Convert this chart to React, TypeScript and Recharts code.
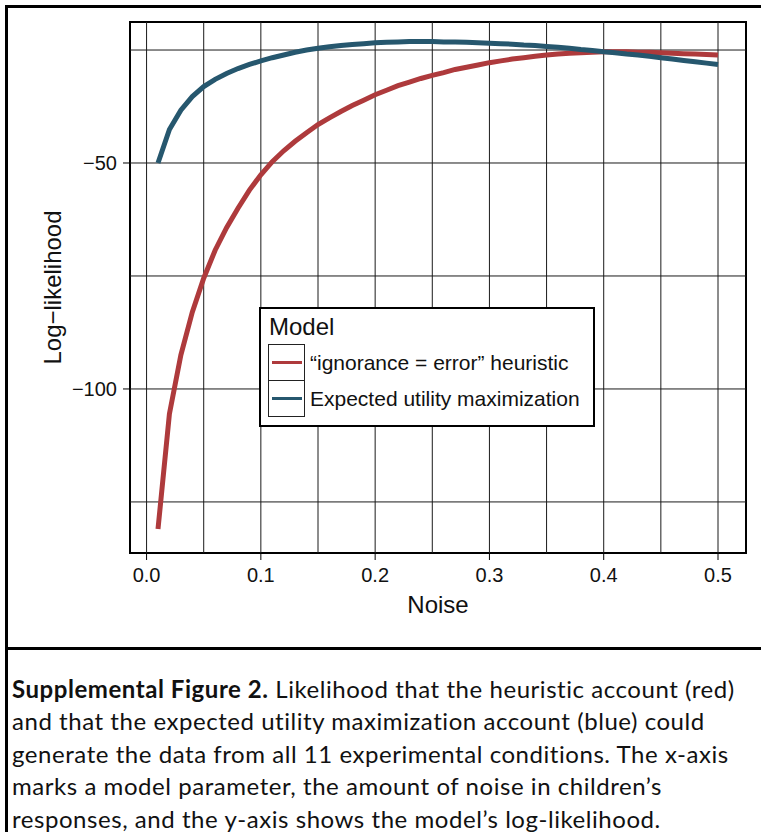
import {
  LineChart,
  Line,
  XAxis,
  YAxis,
  ReferenceLine,
  ReferenceArea,
  Legend,
  Label,
} from "recharts";

// noise parameter grid
const noise = [
  0.01, 0.02, 0.03, 0.04, 0.05, 0.06, 0.07, 0.08, 0.09, 0.1,
  0.11, 0.12, 0.13, 0.14, 0.15, 0.16, 0.17, 0.18, 0.19, 0.2,
  0.21, 0.22, 0.23, 0.24, 0.25, 0.26, 0.27, 0.28, 0.29, 0.3,
  0.31, 0.32, 0.33, 0.34, 0.35, 0.36, 0.37, 0.38, 0.39, 0.4,
  0.41, 0.42, 0.43, 0.44, 0.45, 0.46, 0.47, 0.48, 0.49, 0.5,
];

// "ignorance = error" heuristic log-likelihood
const heuristic = [
  -131, -105.5, -92.5, -83, -75.5, -69.3, -64.3, -60, -56, -52.6,
  -49.7, -47.3, -45.2, -43.3, -41.5, -40, -38.6, -37.3, -36.1, -34.9,
  -33.9, -32.9, -32.1, -31.3, -30.6, -30, -29.3, -28.8, -28.3, -27.8,
  -27.4, -27, -26.7, -26.4, -26.1, -25.9, -25.7, -25.6, -25.5, -25.4,
  -25.4, -25.4, -25.5, -25.5, -25.6, -25.7, -25.8, -25.9, -26, -26.1,
];

// expected utility maximization log-likelihood
const expectedUtility = [
  -50, -42.6, -38.3, -35.3, -33.1, -31.5, -30.2, -29.1, -28.2, -27.4,
  -26.7, -26.1, -25.5, -25, -24.6, -24.3, -24, -23.8, -23.6, -23.4,
  -23.3, -23.2, -23.1, -23.1, -23.1, -23.2, -23.2, -23.3, -23.4, -23.5,
  -23.6, -23.7, -23.9, -24, -24.2, -24.4, -24.6, -24.9, -25.1, -25.4,
  -25.6, -25.9, -26.1, -26.4, -26.7, -27, -27.3, -27.6, -27.9, -28.2,
];

const seriesNames = ["\u201cignorance = error\u201d heuristic", "Expected utility maximization"];
const seriesColors = ["#AE3A3C", "#26576E"];

const xTicks = [0, 0.1, 0.2, 0.3, 0.4, 0.5];
const yTicks = [-100, -50];
const xGrid = [0, 0.05, 0.1, 0.15, 0.2, 0.25, 0.3, 0.35, 0.4, 0.45, 0.5];
const yGrid = [-125, -100, -75, -50, -25];
const X_DOMAIN: [number, number] = [-0.0145, 0.5245];
const Y_DOMAIN: [number, number] = [-136.3, -18.8];

const captionLines = [
  "and that the expected utility maximization account (blue) could",
  "generate the data from all 11 experimental conditions. The x-axis",
  "marks a model parameter, the amount of noise in children\u2019s",
  "responses, and the y-axis shows the model\u2019s log-likelihood.",
];

const data = noise.map((n, i) => ({
  noise: n,
  heuristic: heuristic[i],
  eu: expectedUtility[i],
}));

const FONT = "'Liberation Sans', Arial, Helvetica, sans-serif";
const fmtMinus = (v: number) => (v < 0 ? "\u2212" + Math.abs(v) : String(v));

function ModelLegend() {
  return (
    <div
      style={{
        width: 332,
        height: 116,
        border: "2px solid #000",
        background: "#fff",
        fontFamily: FONT,
        color: "#111",
      }}
    >
      <div style={{ fontSize: 24, lineHeight: "24px", padding: "6px 0 0 8px" }}>Model</div>
      <div style={{ marginTop: 5, marginLeft: 7 }}>
        {seriesNames.map((name, i) => (
          <div
            key={name}
            style={{ display: "flex", alignItems: "center", marginTop: i ? -1 : 0 }}
          >
            <div
              style={{
                width: 35,
                height: 35,
                border: "1px solid #222",
                display: "flex",
                alignItems: "center",
                justifyContent: "center",
              }}
            >
              <div style={{ width: 30, height: 2.5, background: seriesColors[i] }} />
            </div>
            <span style={{ fontSize: 21, lineHeight: "21px", marginLeft: 5 }}>{name}</span>
          </div>
        ))}
      </div>
    </div>
  );
}

export default function App() {
  return (
    <div
      style={{
        position: "absolute",
        left: 0,
        top: 0,
        width: 761,
        height: 832,
        overflow: "hidden",
        background: "#fff",
      }}
    >
      {/* outer figure frame */}
      <div
        style={{
          position: "absolute",
          left: 5,
          top: 5,
          width: 800,
          height: 900,
          border: "3px solid #000",
        }}
      />
      <div style={{ position: "absolute", left: 0, top: 0 }}>
        <LineChart
          width={761}
          height={640}
          data={data}
          margin={{ top: 22, right: 15, left: 0, bottom: 0 }}
        >
          {xGrid.map((v) => (
            <ReferenceLine key={"gx" + v} x={v} stroke="#1a1a1a" strokeWidth={1} />
          ))}
          {yGrid.map((v) => (
            <ReferenceLine key={"gy" + v} y={v} stroke="#1a1a1a" strokeWidth={1} />
          ))}
          <XAxis
            dataKey="noise"
            type="number"
            domain={X_DOMAIN}
            allowDataOverflow
            ticks={xTicks}
            interval={0}
            tickFormatter={(v: number) => v.toFixed(1)}
            axisLine={false}
            tickLine={{ stroke: "#000" }}
            tickSize={7}
            tickMargin={8}
            height={87}
            tick={{ fontSize: 20, fill: "#111", fontFamily: FONT }}
          >
            <Label
              value="Noise"
              position="insideBottom"
              offset={27}
              style={{ fontSize: 24, fill: "#111", fontFamily: FONT }}
            />
          </XAxis>
          <YAxis
            type="number"
            domain={Y_DOMAIN}
            allowDataOverflow
            ticks={yTicks}
            interval={0}
            tickFormatter={fmtMinus}
            axisLine={false}
            tickLine={{ stroke: "#000" }}
            tickSize={7}
            tickMargin={6}
            width={130}
            tick={{ fontSize: 20, fill: "#111", fontFamily: FONT }}
            label={({ viewBox }: any) => {
              const cx = viewBox.x + 52;
              const cy = viewBox.y + viewBox.height / 2;
              return (
                <text
                  x={cx}
                  y={cy}
                  transform={`rotate(-90, ${cx}, ${cy})`}
                  textAnchor="middle"
                  dominantBaseline="central"
                  style={{ fontSize: 24, fill: "#111", fontFamily: FONT }}
                >
                  Log{"\u2212"}likelihood
                </text>
              );
            }}
          />
          <ReferenceArea
            x1={X_DOMAIN[0]}
            x2={X_DOMAIN[1]}
            y1={Y_DOMAIN[0]}
            y2={Y_DOMAIN[1]}
            fill="none"
            stroke="#000"
            strokeWidth={2}
          />
          <Line
            type="linear"
            dataKey="heuristic"
            name={seriesNames[0]}
            stroke={seriesColors[0]}
            strokeWidth={5}
            dot={false}
            isAnimationActive={false}
          />
          <Line
            type="linear"
            dataKey="eu"
            name={seriesNames[1]}
            stroke={seriesColors[1]}
            strokeWidth={5}
            dot={false}
            isAnimationActive={false}
          />
          <Legend
            layout="horizontal"
            verticalAlign="middle"
            align="center"
            content={() => <ModelLegend />}
            wrapperStyle={{ position: "absolute", left: 259, top: 307, width: 336, height: 120 }}
          />
        </LineChart>
      </div>
      {/* caption panel */}
      <div
        style={{
          position: "absolute",
          left: 5,
          top: 647,
          width: 800,
          height: 3,
          background: "#000",
        }}
      />
      <div
        style={{
          position: "absolute",
          left: 12,
          top: 673,
          fontFamily: "Lato, 'Open Sans', sans-serif",
          fontSize: 24,
          letterSpacing: 0.55,
          lineHeight: "32.4px",
          color: "#111",
          whiteSpace: "nowrap",
        }}
      >
        <div>
          <b>Supplemental Figure 2.</b> Likelihood that the heuristic account (red)
        </div>
        {captionLines.map((l) => (
          <div key={l}>{l}</div>
        ))}
      </div>
    </div>
  );
}
